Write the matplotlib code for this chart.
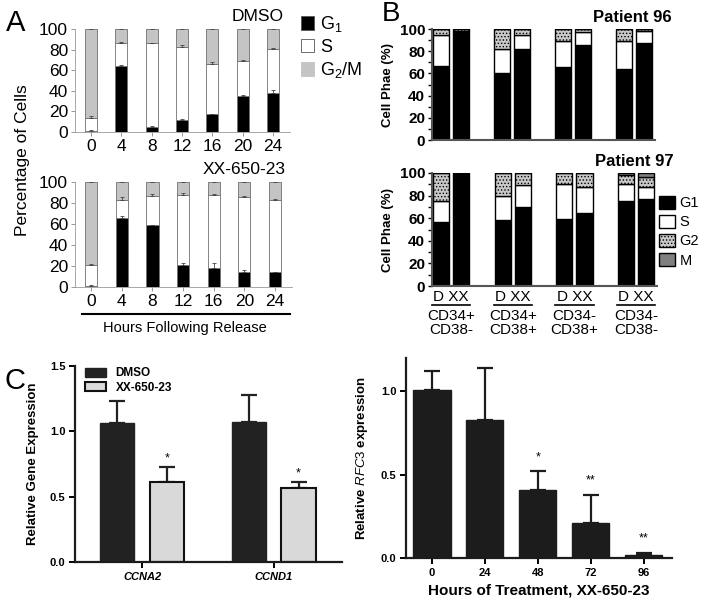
import numpy as np
import matplotlib.pyplot as plt
from matplotlib.patches import Patch

plt.rcParams['font.family'] = ['Liberation Sans', 'DejaVu Sans']
plt.rcParams['mathtext.fontset'] = 'custom'
plt.rcParams['mathtext.rm'] = 'Liberation Sans'
plt.rcParams['mathtext.it'] = 'Liberation Sans:italic'
plt.rcParams['mathtext.bf'] = 'Liberation Sans:bold'
plt.rcParams['mathtext.default'] = 'regular'
plt.rcParams['hatch.linewidth'] = 0.6

W, H = 704, 603

# ---- Panel A: cell cycle after release ----
hours = ['0', '4', '8', '12', '16', '20', '24']
dmso_g1 = [1, 64, 5, 12, 17, 35, 38]
dmso_s = [13, 22, 81, 71, 49, 34, 43]
dmso_err_g1 = [0.5, 1, 0.5, 1, 0.5, 1, 2.5]
dmso_err_s = [1.5, 1, 0.5, 1.5, 1.5, 0.5, 0.5]
dmso_err_tot = [0.5, 1, 0.5, 2, 2, 0.5, 1.5]
xx_g1 = [1, 66, 59, 21, 18, 14, 14]
xx_s = [20, 17, 28, 67, 70, 72, 69]
xx_err_g1 = [0.5, 1.5, 0.5, 2, 5, 2, 0.5]
xx_err_s = [0.5, 2.5, 2, 1.5, 0.5, 0.5, 0.5]
xx_err_tot = [1.5, 2.5, 1.5, 0.5, 0.5, 0.5, 0.5]

# ---- Panel B: patient samples ----
groups_b = ['CD34+\nCD38-', 'CD34+\nCD38+', 'CD34-\nCD38+', 'CD34-\nCD38-']
p96_g1 = [67, 97, 60, 82, 66, 86, 64, 87]
p96_s = [28, 1.5, 22, 13, 23, 11, 25, 11]
p96_g2 = [5, 1.5, 18, 5, 11, 3, 11, 2]
p96_m = [0, 0, 0, 0, 0, 0, 0, 0]
p97_g1 = [57, 100, 58, 70, 59, 65, 75, 77]
p97_s = [18, 0, 22, 19, 31, 23, 15.5, 11]
p97_g2 = [25, 0, 20, 11, 10, 12, 7.5, 8.5]
p97_m = [0, 0, 0, 0, 0, 0, 2, 3.5]

# ---- Panel C ----
genes = ['CCNA2', 'CCND1']
c_dmso = [1.06, 1.07]
c_dmso_err = [0.17, 0.21]
c_xx = [0.61, 0.57]
c_xx_err = [0.12, 0.045]
rfc_hours = ['0', '24', '48', '72', '96']
rfc3 = [1.01, 0.83, 0.41, 0.21, 0.02]
rfc3_err = [0.11, 0.31, 0.11, 0.17, 0.01]
rfc3_sig = ['', '', '*', '**', '**']


def px_axes(fig, x0, y0, x1, y1):
    return fig.add_axes([x0 / W, 1 - y1 / H, (x1 - x0) / W, (y1 - y0) / H])


def draw_a(ax, g1, s, e1, es, et, title):
    x = np.arange(len(hours))
    g1 = np.array(g1, float)
    s = np.array(s, float)
    g2 = 100 - g1 - s
    kw = dict(width=0.4, edgecolor='#707070', linewidth=0.6, zorder=2)
    ax.bar(x, g1, color='black', **kw)
    ax.bar(x, s, bottom=g1, color='white', **kw)
    ax.bar(x, g2, bottom=g1 + s, color='#c4c4c4', **kw)
    for top, err in [(g1, e1), (g1 + s, es), (g1 + s + g2, et)]:
        ax.errorbar(x, top, yerr=[np.zeros(len(x)), err], fmt='none',
                    ecolor='#444444', elinewidth=0.6, capsize=1.5,
                    capthick=0.6, zorder=3)
    ax.set_xlim(-0.53, 6.56)
    ax.set_ylim(0, 100)
    ax.set_yticks([0, 20, 40, 60, 80, 100])
    ax.set_xticks(x)
    ax.set_xticklabels(hours)
    ax.tick_params(labelsize=12.5, length=3, width=0.6, color='#888888', pad=2)
    for sp in ['top', 'right']:
        ax.spines[sp].set_visible(False)
    for sp in ['left', 'bottom']:
        ax.spines[sp].set_color('#999999')
        ax.spines[sp].set_linewidth(0.6)
    ax.text(0.97, 1.12, title, transform=ax.transAxes, ha='right',
            va='center', fontsize=12.5)


def draw_b(ax, g1, s, g2, m, title):
    pos = np.repeat(np.arange(4), 2) + np.tile([-0.164, 0.164], 4)
    g1 = np.array(g1, float)
    s = np.array(s, float)
    g2 = np.array(g2, float)
    m = np.array(m, float)
    kw = dict(width=0.262, edgecolor='black', linewidth=1.0, zorder=2)
    ax.bar(pos, g1, color='black', **kw)
    ax.bar(pos, s, bottom=g1, color='white', **kw)
    ax.bar(pos, g2, bottom=g1 + s, color='#c8c8c8', hatch='.....', **kw)
    ax.bar(pos, m, bottom=g1 + s + g2, color='#808080', **kw)
    ax.set_xlim(-0.31, 3.34)
    ax.set_ylim(0, 100)
    ax.set_yticks([0, 20, 40, 60, 80, 100])
    ax.set_yticks(np.arange(0, 101, 10), minor=True)
    ax.set_xticks([])
    ax.tick_params(axis='y', which='both', labelsize=11, length=3,
                   width=1, pad=2)
    for lab in ax.get_yticklabels():
        lab.set_fontweight('bold')
    for sp in ['top', 'right']:
        ax.spines[sp].set_visible(False)
    for sp in ['left', 'bottom']:
        ax.spines[sp].set_color('#555555')
        ax.spines[sp].set_linewidth(1.5)
    ax.set_ylabel('Cell Phae (%)', fontsize=9.5, fontweight='bold', labelpad=4)
    ax.text(0.9, 1.1, title, transform=ax.transAxes, ha='center',
            va='center', fontsize=12, fontweight='bold')


fig = plt.figure(figsize=(W / 100, H / 100), dpi=100)

# A top and bottom
ax_a1 = px_axes(fig, 75, 29, 290, 132)
draw_a(ax_a1, dmso_g1, dmso_s, dmso_err_g1, dmso_err_s, dmso_err_tot, 'DMSO')
ax_a2 = px_axes(fig, 75, 182, 292, 287)
draw_a(ax_a2, xx_g1, xx_s, xx_err_g1, xx_err_s, xx_err_tot, 'XX-650-23')
ax_a2.plot([-0.3, 6.5], [-0.26, -0.26], color='black', lw=1.5,
           transform=ax_a2.get_xaxis_transform(), clip_on=False)
ax_a2.text(3.05, -0.39, 'Hours Following Release', ha='center', va='center',
           fontsize=10.5, transform=ax_a2.get_xaxis_transform())
fig.text(23 / W, 1 - 160 / H, 'Percentage of Cells', rotation=90,
         ha='center', va='center', fontsize=12.5)
a_handles = [Patch(facecolor='black', edgecolor='#555555', lw=0.6),
             Patch(facecolor='white', edgecolor='#555555', lw=0.6),
             Patch(facecolor='#c4c4c4', edgecolor='#c4c4c4', lw=0.6)]
ax_a1.legend(a_handles, ['G$_1$', 'S', 'G$_2$/M'], loc='upper left',
             bbox_to_anchor=(1.0, 1.25), frameon=False, fontsize=13,
             handlelength=0.75, handleheight=0.8, handletextpad=0.3,
             labelspacing=0.25, borderpad=0.1)

# B top and bottom
ax_b1 = px_axes(fig, 432, 29, 655, 140)
draw_b(ax_b1, p96_g1, p96_s, p96_g2, p96_m, 'Patient 96')
ax_b2 = px_axes(fig, 432, 173, 657, 286)
draw_b(ax_b2, p97_g1, p97_s, p97_g2, p97_m, 'Patient 97')
tr = ax_b2.get_xaxis_transform()
for i, lab in enumerate(groups_b):
    ax_b2.text(i, -0.1, 'D XX', transform=tr, ha='center', va='center',
               fontsize=11)
    ax_b2.plot([i - 0.31, i + 0.31], [-0.17, -0.17], color='black', lw=1.2,
               transform=tr, clip_on=False)
    ax_b2.text(i, -0.205, lab, transform=tr, ha='center', va='top',
               fontsize=11, linespacing=0.95)
b_handles = [Patch(facecolor='black', edgecolor='black'),
             Patch(facecolor='white', edgecolor='black'),
             Patch(facecolor='#c8c8c8', edgecolor='black', hatch='.....'),
             Patch(facecolor='#808080', edgecolor='black')]
ax_b2.legend(b_handles, ['G1', 'S', 'G2', 'M'], loc='upper left',
             bbox_to_anchor=(1.0, 0.82), frameon=False, fontsize=10.5,
             handlelength=1.1, handleheight=1.05, handletextpad=0.3,
             labelspacing=0.3, borderpad=0.05, borderaxespad=0.1)

# C left
ax_c1 = px_axes(fig, 75, 366, 342, 562)
xc = np.arange(len(genes))
ax_c1.bar(xc - 0.19, c_dmso, width=0.26, color='#222222',
          edgecolor='#222222', label='DMSO', zorder=2)
ax_c1.bar(xc + 0.19, c_xx, width=0.26, color='#d9d9d9', edgecolor='#111111',
          linewidth=1.5, label='XX-650-23', zorder=2)
ax_c1.errorbar(xc - 0.19, c_dmso, yerr=[np.zeros(2), c_dmso_err], fmt='none',
               ecolor='#222222', elinewidth=1.6, capsize=6, capthick=1.6,
               zorder=1)
ax_c1.errorbar(xc + 0.19, c_xx, yerr=[np.zeros(2), c_xx_err], fmt='none',
               ecolor='#222222', elinewidth=1.6, capsize=6, capthick=1.6,
               zorder=1)
for xi, v, e in zip(xc + 0.19, c_xx, c_xx_err):
    ax_c1.text(xi, v + e + 0.02, '*', ha='center', va='bottom', fontsize=9)
ax_c1.set_xlim(-0.51, 1.52)
ax_c1.set_ylim(0, 1.5)
ax_c1.set_yticks([0, 0.5, 1.0, 1.5])
ax_c1.set_yticklabels(['0.0', '0.5', '1.0', '1.5'])
ax_c1.set_xticks(xc)
ax_c1.set_xticklabels(genes, fontstyle='italic', fontweight='bold')
ax_c1.set_ylabel('Relative Gene Expression', fontsize=9.5, fontweight='bold',
                 labelpad=8)
ax_c1.legend(loc='upper left', bbox_to_anchor=(0.01, 1.03), frameon=False,
             prop={'size': 8.5, 'weight': 'bold'}, handlelength=1.8,
             handleheight=0.8, labelspacing=0.2, borderpad=0.1)

# C right
ax_c2 = px_axes(fig, 406, 358, 672, 558)
xr = np.arange(len(rfc_hours))
ax_c2.bar(xr, rfc3, width=0.7, color='#1c1c1c', edgecolor='#1c1c1c',
          zorder=2)
ax_c2.errorbar(xr, rfc3, yerr=[np.zeros(len(xr)), rfc3_err], fmt='none',
               ecolor='#1c1c1c', elinewidth=1.6, capsize=6, capthick=1.6,
               zorder=1)
for xi, v, e, sg in zip(xr, rfc3, rfc3_err, rfc3_sig):
    if sg:
        ax_c2.text(xi, v + e + 0.05, sg, ha='center', va='bottom',
                   fontsize=9)
ax_c2.set_xlim(-0.49, 4.53)
ax_c2.set_ylim(0, 1.2)
ax_c2.set_yticks([0, 0.5, 1.0])
ax_c2.set_yticklabels(['0.0', '0.5', '1.0'])
ax_c2.set_xticks(xr)
ax_c2.set_xticklabels(rfc_hours)
ax_c2.set_ylabel('Relative $\\mathit{RFC3}$ expression', fontsize=9.5,
                 fontweight='bold', labelpad=8)
ax_c2.set_xlabel('Hours of Treatment, XX-650-23', fontsize=11,
                 fontweight='bold', labelpad=4)

for ax in (ax_c1, ax_c2):
    for sp in ['top', 'right']:
        ax.spines[sp].set_visible(False)
    for sp in ['left', 'bottom']:
        ax.spines[sp].set_linewidth(1.6)
        ax.spines[sp].set_color('#1c1c1c')
    ax.tick_params(labelsize=8, width=1.4, length=4, pad=3)
    for lab in ax.get_yticklabels():
        lab.set_fontweight('bold')
for lab in ax_c2.get_xticklabels():
    lab.set_fontweight('bold')

# panel letters
fig.text(16 / W, 1 - 23 / H, 'A', fontsize=21, ha='center', va='center')
fig.text(391 / W, 1 - 14 / H, 'B', fontsize=20, ha='center', va='center')
fig.text(15 / W, 1 - 381 / H, 'C', fontsize=21, ha='center', va='center')

fig.savefig('out.png', dpi=100)
